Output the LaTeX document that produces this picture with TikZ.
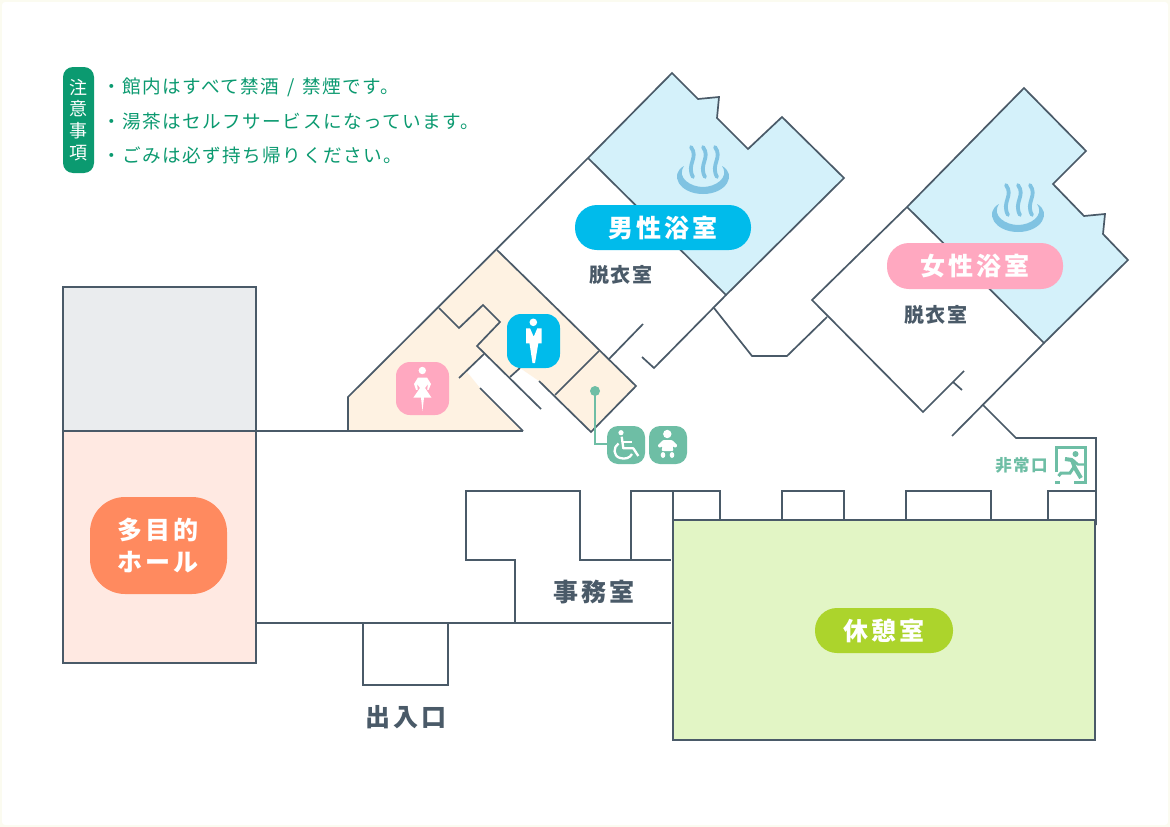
\documentclass[tikz,border=0pt]{standalone}
\usepackage{fontspec}
\setmainfont{Noto Sans CJK JP}
\newfontfamily\lab[LetterSpace=12]{Noto Sans CJK JP}
\newfontfamily\labs[LetterSpace=8]{Noto Sans CJK JP}
\definecolor{wall}{HTML}{4A5A68}
\definecolor{bath}{HTML}{D4F1FA}
\definecolor{cream}{HTML}{FEF2E2}
\definecolor{hallg}{HTML}{EAECEE}
\definecolor{hallp}{HTML}{FFE9E2}
\definecolor{rest}{HTML}{E2F5C5}
\definecolor{cblue}{HTML}{00BBEB}
\definecolor{cpink}{HTML}{FFA8C0}
\definecolor{clime}{HTML}{ACD42C}
\definecolor{corange}{HTML}{FF8A5F}
\definecolor{cgreen}{HTML}{0B9A70}
\definecolor{cmint}{HTML}{6EBEA5}
\definecolor{steam}{HTML}{80C3E2}
\definecolor{edge}{HTML}{FBFBF0}
\tikzset{
  wl/.style={draw=wall,line width=1.7pt,line join=miter},
  roomw/.style={wl,fill=#1},
  pilltext/.style={text=white,font=\lab\fontsize{25}{25}\selectfont\bfseries,inner sep=0pt},
  roomtext/.style={text=wall,font=\labs\fontsize{20}{20}\selectfont\bfseries,inner sep=0pt},
  bigtext/.style={text=wall,font=\lab\fontsize{25}{25}\selectfont\bfseries,inner sep=0pt},
  note/.style={text=cgreen,font=\labs\fontsize{18.6}{18.6}\selectfont,anchor=west,inner sep=0pt},
  spring/.pic={
    \fill[steam] (-19,-4) .. controls (-34,4) and (-24,24) .. (0,24) .. controls (24,24) and (34,4) .. (19,-4) .. controls (27,8) and (12,17) .. (0,17) .. controls (-12,17) and (-27,8) .. (-19,-4) -- cycle;
    \foreach \dx in {-12,0,12}{
      \draw[steam,line width=3.8pt,line cap=round] (\dx,-23) .. controls (\dx+8,-12) and (\dx-5,-6) .. (\dx+2,7);
    }
  }
}
\begin{document}
\begin{tikzpicture}[x=1pt,y=-1pt]
\useasboundingbox (0,0) rectangle (1170,827);
\fill[edge] (0,0) rectangle (1170,827);
\fill[white,rounded corners=3] (2,2) rectangle (1168,825);
% rooms
\path[roomw=hallg] (63,287) rectangle (256,431);
\path[roomw=hallp] (63,431) rectangle (256,663);
\path[roomw=rest] (673,520) rectangle (1095,740);
% baths
\fill[bath] (672,73) -- (698,99) -- (719,97) -- (717,118) -- (748,149) -- (782,117) -- (844,178) -- (726,295) -- (588,158) -- cycle;
\draw[wl] (588,158) -- (672,73) -- (698,99) -- (719,97) -- (717,118) -- (748,149) -- (782,117) -- (844,178) -- (726,295) -- (588,158);
\fill[bath] (1024,88) -- (1086,151) -- (1053,184) -- (1084,216) -- (1105,214) -- (1103,234) -- (1128,260) -- (1044,343) -- (907,207) -- cycle;
\draw[wl] (907,207) -- (1024,88) -- (1086,151) -- (1053,184) -- (1084,216) -- (1105,214) -- (1103,234) -- (1128,260) -- (1044,343) -- (907,207);
% toilets
\fill[cream] (348,431) -- (348,397) -- (497,250) -- (636,386) -- (591,432) -- (555,395) -- (539,381) -- (520,368) -- (510,377) -- (477,346) -- (484,354) -- (467,372) -- (480,388) -- (523,431) -- cycle;
\draw[wl] (523,431) -- (257,431);
\draw[wl] (480,388) -- (523,431);
\draw[wl] (348,431) -- (348,397) -- (588,158);
\draw[wl] (439,308) -- (459,328) -- (483,305) -- (500,322) -- (477,346) -- (541,409);
\draw[wl] (484,354) -- (459,378);
\draw[wl] (510,377) -- (520,368);
\draw[wl] (497,250) -- (636,386) -- (591,432) -- (539,381);
\draw[wl] (555,395) -- (599,351);
\draw[wl] (609,359) -- (643,324);
\draw[wl] (642,357) -- (654,368) -- (726,295);
\draw[wl] (714,308) -- (752,356) -- (787,356) -- (827,317);
% women's changing room
\draw[wl] (907,207) -- (812,300) -- (923,412) -- (964,371);
\draw[wl] (953,382) -- (962,390);
\draw[wl] (1044,343) -- (952,436);
\draw[wl] (983,405) -- (1016,438) -- (1096,438) -- (1096,525);
% lower
\draw[wl] (256,623) -- (671,623);
\draw[wl] (363,623) -- (363,685) -- (448,685) -- (448,623);
\draw[wl] (515,623) -- (515,560) -- (466,560) -- (466,491) -- (580,491) -- (580,560) -- (671,560);
\draw[wl] (631,560) -- (631,491) -- (720,491) -- (720,520);
\draw[wl] (673,491) -- (673,520);
\draw[wl] (782,520) -- (782,491) -- (844,491) -- (844,520);
\draw[wl] (906,520) -- (906,491) -- (991,491) -- (991,520);
\draw[wl] (1048,520) -- (1048,491) -- (1096,491);
% springs
\pic at (703,170) {spring};
\pic at (1018,208) {spring};
% pills
\fill[cblue,rounded corners=22] (575,205) rectangle (751,250);
\node[pilltext] (men) at (663,227.5) {男性浴室};
\fill[cpink,rounded corners=22] (887,243) rectangle (1063,289);
\node[pilltext] (women) at (975,266) {女性浴室};
\fill[clime,rounded corners=22] (815,608) rectangle (953,653);
\node[pilltext] (kyukei) at (884,630.5) {休憩室};
\fill[corange,rounded corners=35] (90,497) rectangle (227,594);
\node[pilltext] (hall1) at (158,530) {多目的};
\node[pilltext] (hall2) at (158,562) {ホール};
% room labels
\node[roomtext] (d1) at (621,275) {脱衣室};
\node[roomtext] (d2) at (936,315) {脱衣室};
\node[bigtext] (jimu) at (594,592) {事務室};
\node[bigtext] (iri) at (406,717) {出入口};
% notes
\fill[cgreen,rounded corners=10] (63,67) rectangle (94,173);
\node[text=white,font=\fontsize{18}{21.7}\selectfont,align=center,inner sep=0pt] (chui) at (78.5,120) {注\\意\\事\\項};
\node[note] (n1) at (102,87.5) {・館内はすべて禁酒\hspace{2pt} / \hspace{2pt}禁煙です。};
\node[note] (n2) at (102,121) {・湯茶はセルフサービスになっています。};
\node[note] (n3) at (102,155) {・ごみは必ず持ち帰りください。};
% men icon
\fill[cblue,rounded corners=14] (507,314) rectangle (560,368);
\fill[white] (533.3,322.3) circle[radius=3.8];
\fill[white] (526,328.3) -- (530,328.3) -- (533.7,336.7) -- (537.3,328.3) -- (541.7,328.3) -- (541.7,343.3) -- (538.3,343.3) -- (535,363) -- (532.5,363) -- (529.5,343.3) -- (526,343.3) -- cycle;
% women icon
\fill[cpink,rounded corners=14] (396,362) rectangle (449,415);
\fill[white] (422.3,370.5) circle[radius=3.7];
\fill[white] (418,377.5) -- (427,377.5) -- (431,384) -- (428.5,390) -- (427.2,389.5) -- (428,384) -- (425,388) -- (431.5,397.7) -- (424,397.7) -- (422.5,411) -- (421,397.7) -- (413.3,397.7) -- (420,388) -- (417,384) -- (417.8,389.5) -- (416,390) -- (414,384) -- cycle;
% wheelchair & baby
\fill[cmint,rounded corners=11] (607,426) rectangle (645,464);
\fill[cmint,rounded corners=11] (649,426) rectangle (687,464);
\coordinate (wcdot) at (595,391);
\coordinate (wcbend) at (595,444);
\coordinate (wcend) at (607,444);
\fill[cmint] (wcdot) circle[radius=5];
\draw[cmint,line width=1.8pt] (wcdot) -- (wcbend) -- (wcend);
\fill[white] (621,432.7) circle[radius=2.6];
\draw[white,line width=2.3pt,line join=round] (621.7,436.7) -- (623.3,448.3) -- (633.3,448.3) -- (638.3,456);
\draw[white,line width=2pt] (622.7,441.5) -- (631.7,441.5);
\draw[white,line width=2.3pt] (618.5,443.5) .. controls (613,447) and (613,456) .. (620,458) .. controls (625,459.5) and (630,458) .. (632,454);
\fill[white] (667.3,434) circle[radius=4.2];
\fill[white,rounded corners=1] (663,440) -- (672,440) -- (677.5,445.5) -- (675.5,448) -- (672.5,446) -- (673.5,451) -- (661.5,451) -- (662.5,446) -- (659.5,448) -- (657.5,445.5) -- cycle;
\fill[white] (663,455) ellipse[x radius=2.3,y radius=3];
\fill[white] (672,455) ellipse[x radius=2.3,y radius=3];
% exit
\node[text=cmint,font=\labs\fontsize{16.5}{16.5}\selectfont\bfseries,inner sep=0pt] (exit) at (1021.5,465) {非常口};
\draw[cmint,line width=3pt] (1056.5,472) -- (1056.5,447) -- (1085.5,447) -- (1085.5,482) -- (1074,482);
\draw[cmint,line width=3pt] (1055,482) -- (1060,482);
\fill[cmint] (1075.5,454) circle[radius=3];
\draw[cmint,line width=4pt,line join=round] (1065,459) -- (1072,460) -- (1075,468) -- (1081,478);
\draw[cmint,line width=2.4pt] (1073,460) -- (1078,464.5) -- (1084,464.5);
\draw[cmint,line width=3pt] (1074,467) -- (1070,473) -- (1061,473) -- (1058.5,476);
\end{tikzpicture}
\end{document}
